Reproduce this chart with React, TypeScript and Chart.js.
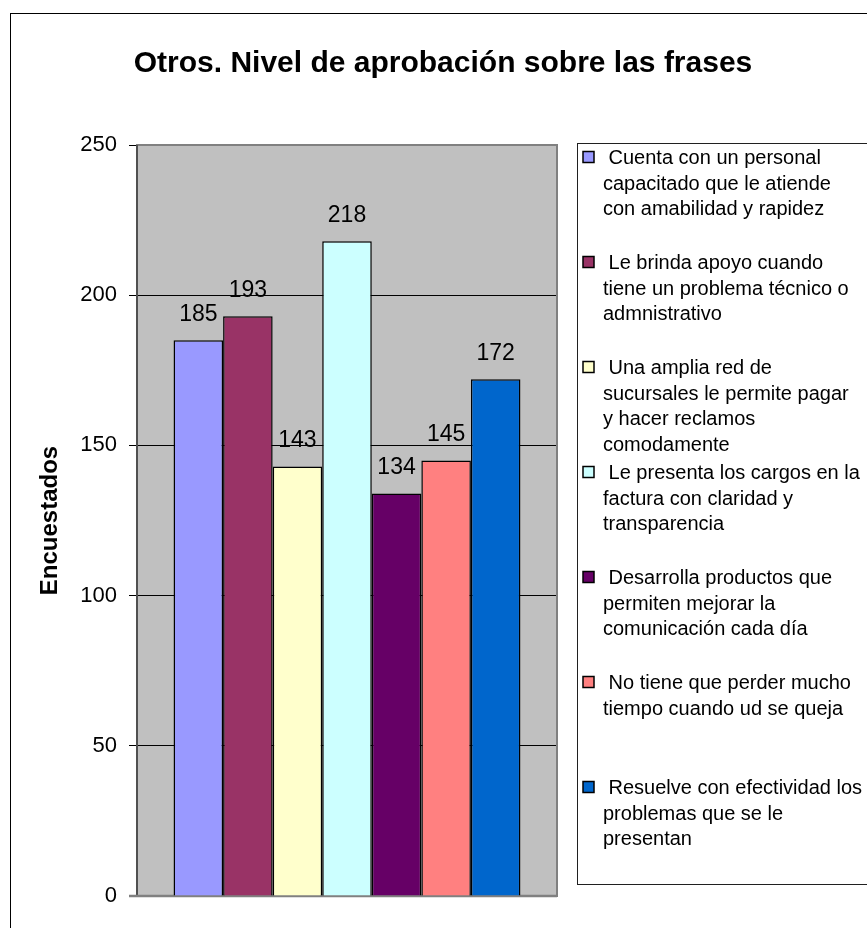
import React, { useEffect, useRef } from 'react';
import { Chart, registerables } from 'chart.js';

Chart.register(...registerables);

const categories = [''];
const seriesNames: string[][] = [
  ['Cuenta con un personal', 'capacitado que le atiende', 'con amabilidad y rapidez'],
  ['Le brinda apoyo cuando', 'tiene un problema técnico o', 'admnistrativo'],
  ['Una amplia red de', 'sucursales le permite pagar', 'y hacer reclamos', 'comodamente'],
  ['Le presenta los cargos en la', 'factura con claridad y', 'transparencia'],
  ['Desarrolla productos que', 'permiten mejorar la', 'comunicación cada día'],
  ['No tiene que perder mucho', 'tiempo cuando ud se queja'],
  ['Resuelve con efectividad los', 'problemas que se le', 'presentan'],
];
const seriesValues = [185, 193, 143, 218, 134, 145, 172];
const seriesColors = ['#9999FF', '#993366', '#FFFFCC', '#CCFFFF', '#660066', '#FF8080', '#0066CC'];
const yTicks = [0, 50, 100, 150, 200, 250];
const chartTitle = 'Otros. Nivel de aprobación sobre las frases';
const yAxisTitle = 'Encuestados';

const FONT = 'Arial, "Liberation Sans", sans-serif';

const decorPlugin = {
  id: 'decor',
  beforeDraw(chart: any) {
    const { ctx, chartArea: a } = chart;
    ctx.save();
    ctx.fillStyle = '#ffffff';
    ctx.fillRect(0, 0, chart.width, chart.height);
    ctx.strokeStyle = '#000000';
    ctx.lineWidth = 1;
    ctx.strokeRect(10.5, 13.5, chart.width + 50, chart.height + 50);
    ctx.fillStyle = '#C0C0C0';
    ctx.fillRect(a.left, a.top, a.right - a.left, a.bottom - a.top);
    ctx.fillStyle = '#000000';
    ctx.font = `bold 30px ${FONT}`;
    ctx.textAlign = 'center';
    ctx.textBaseline = 'alphabetic';
    ctx.fillText(chartTitle, 443, 72);
    ctx.restore();
  },
  beforeDatasetsDraw(chart: any) {
    const { ctx, chartArea: a } = chart;
    ctx.save();
    ctx.strokeStyle = '#808080';
    ctx.lineWidth = 2;
    ctx.strokeRect(a.left, a.top, a.right - a.left, a.bottom - a.top);
    ctx.strokeStyle = '#404040';
    ctx.lineWidth = 1.5;
    ctx.beginPath();
    ctx.moveTo(a.left, a.top);
    ctx.lineTo(a.left, a.bottom);
    ctx.stroke();
    ctx.strokeStyle = '#808080';
    ctx.lineWidth = 2.5;
    ctx.beginPath();
    ctx.moveTo(a.left - 8, a.bottom);
    ctx.lineTo(a.right, a.bottom);
    ctx.stroke();
    ctx.restore();
  },
  afterDatasetsDraw(chart: any) {
    const { ctx } = chart;
    ctx.save();
    ctx.fillStyle = '#000000';
    ctx.font = `23px ${FONT}`;
    ctx.textAlign = 'center';
    ctx.textBaseline = 'alphabetic';
    chart.data.datasets.forEach((ds: any, i: number) => {
      const meta = chart.getDatasetMeta(i);
      meta.data.forEach((el: any, j: number) => {
        ctx.fillText(String(ds.data[j]), el.x, el.y - 19);
      });
    });
    ctx.restore();
  },
  afterDraw(chart: any) {
    const { ctx } = chart;
    ctx.save();
    const lx = 577.5;
    const ly = 143.5;
    const lb = 884.5;
    ctx.fillStyle = '#ffffff';
    ctx.fillRect(lx, ly, 400, lb - ly);
    ctx.strokeStyle = '#202020';
    ctx.lineWidth = 1;
    ctx.strokeRect(lx, ly, 400, lb - ly);
    ctx.font = `20px ${FONT}`;
    ctx.textAlign = 'left';
    ctx.textBaseline = 'alphabetic';
    chart.data.datasets.forEach((ds: any, i: number) => {
      const lines = seriesNames[i];
      const y0 = 157 + i * 105;
      ctx.fillStyle = ds.backgroundColor;
      ctx.fillRect(583, y0 - 5.5, 11, 11);
      ctx.strokeStyle = '#000000';
      ctx.lineWidth = 1.5;
      ctx.strokeRect(583, y0 - 5.5, 11, 11);
      ctx.fillStyle = '#000000';
      lines.forEach((t, k) => {
        ctx.fillText(k === 0 ? ' ' + t : t, 603, y0 + 7 + k * 25.5);
      });
    });
    ctx.restore();
  },
};

export default function App() {
  const canvasRef = useRef<HTMLCanvasElement | null>(null);

  useEffect(() => {
    if (!canvasRef.current) return;
    const first = yTicks[0];
    const last = yTicks[yTicks.length - 1];
    const chart = new Chart(canvasRef.current, {
      type: 'bar',
      data: {
        labels: categories,
        datasets: seriesNames.map((lines, i) => ({
          label: lines.join(' '),
          data: [seriesValues[i]],
          backgroundColor: seriesColors[i],
          borderColor: '#000000',
          borderWidth: 1.5,
          categoryPercentage: 0.826,
          barPercentage: 1,
        })),
      },
      options: {
        responsive: false,
        animation: false,
        layout: { padding: { top: 145, right: 310, bottom: 32, left: 20 } },
        plugins: {
          legend: { display: false },
          title: { display: false },
          tooltip: { enabled: false },
        },
        scales: {
          x: { display: false, offset: true },
          y: {
            min: first,
            max: last,
            afterBuildTicks: (scale: any) => {
              scale.ticks = yTicks.map((v) => ({ value: v }));
            },
            afterFit: (scale: any) => {
              scale.width = 117;
            },
            border: { display: false },
            grid: {
              color: (c: any) =>
                c.tick && (c.tick.value === first || c.tick.value === last) ? 'rgba(0,0,0,0)' : '#000000',
              lineWidth: 1,
              tickColor: (c: any) => (c.tick && c.tick.value === first ? 'rgba(0,0,0,0)' : '#000000'),
              tickLength: 8,
              drawTicks: true,
            },
            ticks: {
              color: '#000000',
              font: { family: FONT, size: 22 },
              padding: 12,
            },
            title: {
              display: true,
              text: yAxisTitle,
              color: '#000000',
              font: { family: FONT, size: 24, weight: 'bold' },
              padding: { top: 16, bottom: 0 },
            },
          },
        },
      },
      plugins: [decorPlugin],
    });
    return () => chart.destroy();
  }, []);

  return (
    <div style={{ position: 'absolute', left: 0, top: 0, width: 867, height: 928 }}>
      <canvas ref={canvasRef} width={867} height={928} style={{ display: 'block' }} />
    </div>
  );
}
